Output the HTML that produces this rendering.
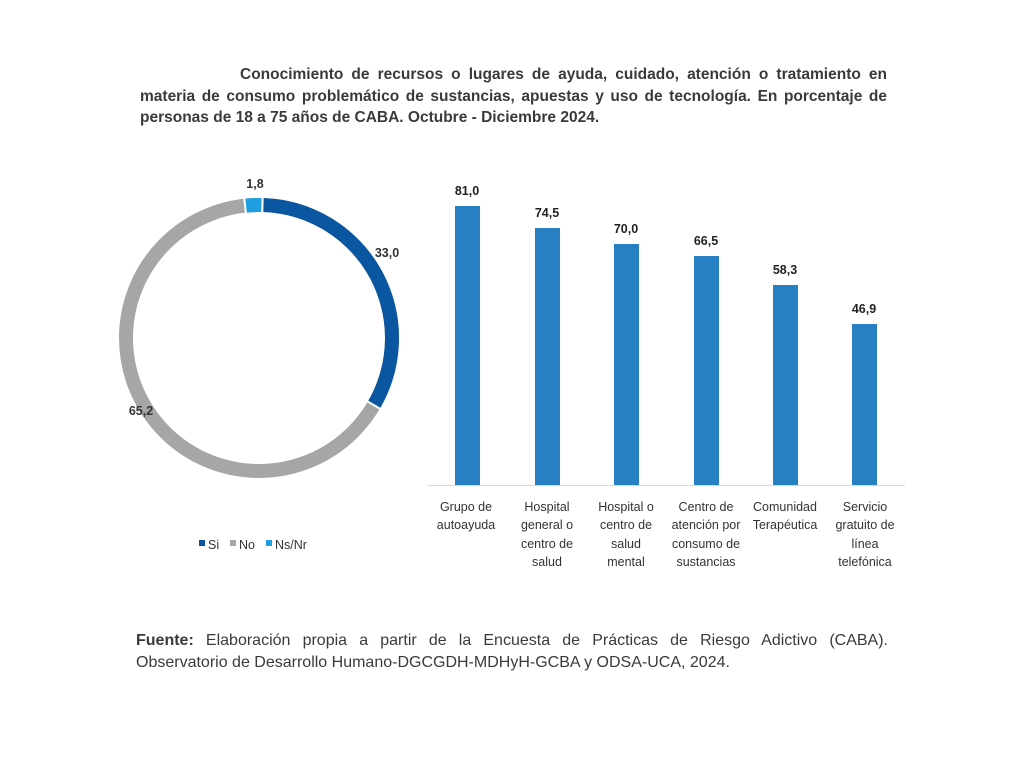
<!DOCTYPE html>
<html><head><meta charset="utf-8"><style>
body{margin:0;width:1024px;height:768px;background:#fff;font-family:"Liberation Sans",sans-serif;color:#333;position:relative;overflow:hidden}
.t{position:absolute;left:140px;width:747px;font-weight:bold;font-size:15.5px;line-height:21.5px;top:64px;color:#3a3a3a}
.f{position:absolute;left:136px;width:752px;font-size:16px;line-height:21.5px;top:630px;color:#3a3a3a}
.j{text-align:justify;text-align-last:justify;white-space:nowrap}
svg{position:absolute;left:0;top:0}
</style></head><body>
<div class="t">
<div class="j" style="padding-left:100px">Conocimiento de recursos o lugares de ayuda, cuidado, atención o tratamiento en</div>
<div class="j">materia de consumo problemático de sustancias, apuestas y uso de tecnología. En porcentaje de</div>
<div style="white-space:nowrap">personas de 18 a 75 años de CABA. Octubre - Diciembre 2024.</div>
</div>
<svg width="1024" height="768" font-family="Liberation Sans, sans-serif">
<g transform="translate(259,338) rotate(-90)" fill="none" stroke-width="14">
<circle r="133" stroke="#a6a6a6" />
<circle r="133" stroke="#0b56a0" stroke-dasharray="275.8 1000" transform="rotate(1.5)"/>
<circle r="133" stroke="#1ea0e0" stroke-dasharray="16 1000" transform="rotate(354)"/>
<line x1="118" y1="0" x2="148" y2="0" stroke="#fff" stroke-width="2" transform="rotate(1.5)"/>
<line x1="118" y1="0" x2="148" y2="0" stroke="#fff" stroke-width="2" transform="rotate(120.3)"/>
<line x1="118" y1="0" x2="148" y2="0" stroke="#fff" stroke-width="2" transform="rotate(354)"/>
</g>
<g font-size="12.5" font-weight="bold" fill="#333">
<text x="255" y="188" text-anchor="middle">1,8</text>
<text x="387" y="257" text-anchor="middle">33,0</text>
<text x="141" y="415" text-anchor="middle">65,2</text>
</g>
<g font-size="12.5" fill="#333">
<rect x="199" y="540" width="6" height="6" fill="#0b56a0"/><text x="208" y="549">Si</text>
<rect x="230" y="540" width="6" height="6" fill="#a6a6a6"/><text x="239" y="549">No</text>
<rect x="266" y="540" width="6" height="6" fill="#1ea0e0"/><text x="275" y="549">Ns/Nr</text>
</g>
<line x1="428" y1="485.5" x2="905" y2="485.5" stroke="#d9d9d9" stroke-width="1"/>
<g fill="#2680c2">
<rect x="455" y="206" width="25" height="279"/>
<rect x="535" y="228" width="25" height="257"/>
<rect x="614" y="244" width="25" height="241"/>
<rect x="694" y="256" width="25" height="229"/>
<rect x="773" y="285" width="25" height="200"/>
<rect x="852" y="324" width="25" height="161"/>
</g>
<g font-size="12.5" font-weight="bold" fill="#222" text-anchor="middle">
<text x="467" y="195">81,0</text><text x="547" y="217">74,5</text><text x="626" y="233">70,0</text>
<text x="706" y="245">66,5</text><text x="785" y="274">58,3</text><text x="864" y="313">46,9</text>
</g>
<g font-size="12.5" fill="#333" text-anchor="middle">
<text x="466" y="511">Grupo de</text><text x="466" y="529">autoayuda</text>
<text x="547" y="511">Hospital</text><text x="547" y="529">general o</text><text x="547" y="548">centro de</text><text x="547" y="566">salud</text>
<text x="626" y="511">Hospital o</text><text x="626" y="529">centro de</text><text x="626" y="548">salud</text><text x="626" y="566">mental</text>
<text x="706" y="511">Centro de</text><text x="706" y="529">atención por</text><text x="706" y="548">consumo de</text><text x="706" y="566">sustancias</text>
<text x="785" y="511">Comunidad</text><text x="785" y="529">Terapéutica</text>
<text x="865" y="511">Servicio</text><text x="865" y="529">gratuito de</text><text x="865" y="548">línea</text><text x="865" y="566">telefónica</text>
</g>
</svg>
<div class="f">
<div class="j"><b>Fuente:</b> Elaboración propia a partir de la Encuesta de Prácticas de Riesgo Adictivo (CABA).</div>
<div style="white-space:nowrap">Observatorio de Desarrollo Humano-DGCGDH-MDHyH-GCBA y ODSA-UCA, 2024.</div>
</div>
</body></html>
